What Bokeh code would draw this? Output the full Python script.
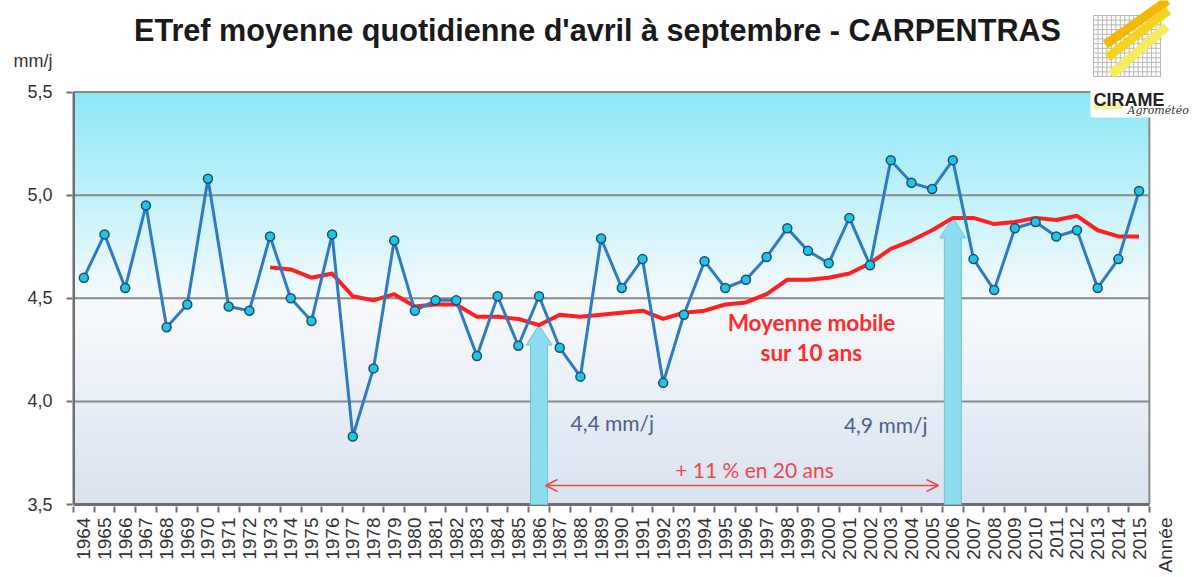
import math
import numpy as np
from bokeh.plotting import figure
from bokeh.models import Range1d, FixedTicker, Arrow, OpenHead
from bokeh.core.properties import value
from bokeh.embed import file_html
from bokeh.resources import INLINE

# ---------------- data ----------------
years = list(range(1964, 2016))
etref = [4.60, 4.81, 4.55, 4.95, 4.36, 4.47, 5.08, 4.46, 4.44, 4.80,
         4.50, 4.39, 4.81, 3.83, 4.16, 4.78, 4.44, 4.49, 4.49, 4.22,
         4.51, 4.27, 4.51, 4.26, 4.12, 4.79, 4.55, 4.69, 4.09, 4.42,
         4.68, 4.55, 4.59, 4.70, 4.84, 4.73, 4.67, 4.89, 4.66, 5.17,
         5.06, 5.03, 5.17, 4.69, 4.54, 4.84, 4.87, 4.80, 4.83, 4.55,
         4.69, 5.02]
ma_years = list(range(1973, 2016))
ma_values = [4.65, 4.64, 4.60, 4.62, 4.51, 4.49, 4.52, 4.46, 4.47, 4.47,
             4.41, 4.41, 4.40, 4.37, 4.42, 4.41, 4.42, 4.43, 4.44, 4.40,
             4.43, 4.44, 4.47, 4.48, 4.52, 4.59, 4.59, 4.60, 4.62, 4.67,
             4.74, 4.78, 4.83, 4.89, 4.89, 4.86, 4.87, 4.89, 4.88, 4.90,
             4.83, 4.80, 4.80]
ytick_values = [3.5, 4.0, 4.5, 5.0, 5.5]
ytick_labels = ["3,5", "4,0", "4,5", "5,0", "5,5"]
arrow_years = [1986, 2006]
arrow_labels = ["4,4 mm/j", "4,9 mm/j"]
title_text = "ETref moyenne quotidienne d'avril à septembre - CARPENTRAS"
unit_label = "mm/j"
xaxis_label = "Année"
ma_label = ["Moyenne mobile", "sur 10 ans"]
change_label = "+ 11 % en 20 ans"

# ---------------- geometry (page pixels -> data, for decorations) ----------------
PX_YEAR = 20.69
PX_UNIT = 206.2
X_LEFT_PAGE = 73.0
Y_BOTTOM_PAGE = 504.0
x_lo = years[0] - 0.5
x_hi = years[-1] + 0.5
y_lo = ytick_values[0]
y_hi = ytick_values[-1]


def dx(px):
    return x_lo + (np.asarray(px, dtype=float) - X_LEFT_PAGE) / PX_YEAR


def dy(py):
    return y_lo + (Y_BOTTOM_PAGE - np.asarray(py, dtype=float)) / PX_UNIT


FRAME_LEFT, FRAME_RIGHT, FRAME_TOP, FRAME_BOTTOM = 72, 1198, 0, 506
TOTAL_H = 575

p = figure(frame_width=FRAME_RIGHT - FRAME_LEFT, frame_height=FRAME_BOTTOM - FRAME_TOP,
           min_border_left=FRAME_LEFT, min_border_right=0, min_border_top=FRAME_TOP,
           min_border_bottom=TOTAL_H - FRAME_BOTTOM,
           x_range=Range1d(float(dx(FRAME_LEFT)), float(dx(FRAME_RIGHT))),
           y_range=Range1d(float(dy(FRAME_BOTTOM)), float(dy(FRAME_TOP))),
           output_backend="svg", toolbar_location=None,
           background_fill_color="white", border_fill_color="white",
           outline_line_color=None)
p.xgrid.visible = False
p.ygrid.visible = False

# ---------------- axes ----------------
unit_pos = float(dy(60))
p.yaxis.ticker = FixedTicker(ticks=ytick_values + [unit_pos], minor_ticks=ytick_values)
ov = {v: l for v, l in zip(ytick_values, ytick_labels)}
ov[unit_pos] = unit_label
p.yaxis.major_label_overrides = ov
p.yaxis.axis_line_color = None
p.yaxis.major_tick_out = 0
p.yaxis.major_tick_in = 0
p.yaxis.minor_tick_out = 6
p.yaxis.minor_tick_in = 0
p.yaxis.minor_tick_line_color = "#707070"
p.yaxis.minor_tick_line_width = 2
p.yaxis.major_label_standoff = 14
p.yaxis.major_label_text_font = "Liberation Sans"
p.yaxis.major_label_text_font_size = "18px"
p.yaxis.major_label_text_color = "#333333"

annee_pos = float(dx(1165))
p.xaxis.ticker = FixedTicker(ticks=years + [annee_pos],
                             minor_ticks=[y - 0.5 for y in years] + [x_hi])
xov = {y: str(y) for y in years}
xov[annee_pos] = xaxis_label
p.xaxis.major_label_overrides = xov
p.xaxis.major_label_orientation = math.pi / 2
p.xaxis.axis_line_color = None
p.xaxis.major_tick_out = 0
p.xaxis.major_tick_in = 0
p.xaxis.minor_tick_out = 6
p.xaxis.minor_tick_in = 0
p.xaxis.minor_tick_line_color = "#707070"
p.xaxis.minor_tick_line_width = 2
p.xaxis.major_label_standoff = 5
p.xaxis.major_label_text_font = "Liberation Sans"
p.xaxis.major_label_text_font_size = "19px"
p.xaxis.major_label_text_color = "#333333"

# ---------------- background gradient ----------------
stops_v = [3.5, 4.45, 4.6, 5.0, 5.5]
stops_c = [(217, 226, 239), (246, 249, 252), (236, 249, 252), (193, 241, 250), (138, 231, 245)]
n = 90
edges = np.linspace(y_lo, y_hi, n + 1)
mids = (edges[:-1] + edges[1:]) / 2
cols = []
for m in mids:
    r = int(round(np.interp(m, stops_v, [c[0] for c in stops_c])))
    g = int(round(np.interp(m, stops_v, [c[1] for c in stops_c])))
    b = int(round(np.interp(m, stops_v, [c[2] for c in stops_c])))
    cols.append("#%02x%02x%02x" % (r, g, b))
p.quad(left=x_lo, right=x_hi, bottom=edges[:-1], top=edges[1:],
       fill_color=cols, line_color=cols, line_width=1, level="image")

# grid + borders
p.segment(x0=x_lo, x1=x_hi, y0=ytick_values[1:-1], y1=ytick_values[1:-1],
          line_color="#8a8a8a", line_width=2, level="underlay")
p.segment(x0=x_lo, x1=x_hi, y0=[y_hi], y1=[y_hi], line_color="#8a8a8a", line_width=2, level="underlay")
p.segment(x0=[x_hi], x1=[x_hi], y0=y_lo, y1=y_hi, line_color="#8a8a8a", line_width=2, level="underlay")
p.segment(x0=x_lo, x1=x_hi, y0=[y_lo], y1=[y_lo], line_color="#6e6e6e", line_width=3, level="underlay")
p.segment(x0=[x_lo], x1=[x_lo], y0=y_lo, y1=y_hi, line_color="#6e6e6e", line_width=3, level="underlay")

# ---------------- block arrows ----------------
sw, hw, hh = 0.41, 0.63, 0.097
axs, ays = [], []
for yr in arrow_years:
    tip = ma_values[ma_years.index(yr)]
    base = tip - hh
    axs.append([yr - sw, yr - sw, yr - hw, yr, yr + hw, yr + sw, yr + sw])
    ays.append([y_lo, base, base, tip, base, base, y_lo])
p.patches(axs, ays, fill_color="#8edcef", line_color="#6fc3da", line_width=1)

# ---------------- series ----------------
p.line(ma_years, ma_values, line_color="#ff1f1f", line_width=4, line_join="round")
p.line(years, etref, line_color="#2e7bc4", line_width=3, line_join="round")
p.scatter(years, etref, marker="circle", size=9, fill_color="#22c4e4",
          line_color="#1d4e6e", line_width=1.5)

# ---------------- annotations ----------------
p.text(x=[float(dx(811))] * 2, y=[float(dy(322)), float(dy(352))], text=ma_label,
       text_align="center", text_baseline="middle", text_font=value("Lato"),
       text_font_style="bold", text_font_size="22.5px", text_color="#ff2b2b")
p.text(x=[float(dx(754))], y=[float(dy(469))], text=[change_label],
       text_align="center", text_baseline="middle", text_font=value("Lato"),
       text_font_size="21px", text_color="#f04848")
p.text(x=[float(dx(570)), float(dx(927))], y=[float(dy(422)), float(dy(424))], text=arrow_labels,
       text_align=["left", "right"], text_baseline="middle", text_font=value("Lato"),
       text_font_size="21px", text_color="#4d5f8c")
p.add_layout(Arrow(start=OpenHead(size=12, line_color="#f04848", line_width=1.5),
                   end=OpenHead(size=12, line_color="#f04848", line_width=1.5),
                   x_start=float(dx(545)), y_start=float(dy(485)),
                   x_end=float(dx(938)), y_end=float(dy(485)),
                   line_color="#f04848", line_width=1.5))

# title
p.text(x=[float(dx(597))], y=[float(dy(29))], text=[title_text],
       text_align="center", text_baseline="middle", text_font=value("Liberation Sans"),
       text_font_style="bold", text_font_size="30.6px", text_color="#1a1a1a")

# ---------------- logo ----------------
p.quad(left=float(dx(1090)), right=float(dx(1210)), bottom=float(dy(117)), top=float(dy(-5)),
       fill_color="white", line_color=None)
gx = np.linspace(1093, 1160, 16)
gy = np.linspace(15, 76, 14)
p.segment(x0=dx(gx), x1=dx(gx), y0=float(dy(15)), y1=float(dy(76)),
          line_color="#b8b8b8", line_width=1)
p.segment(x0=float(dx(1093)), x1=float(dx(1160)), y0=dy(gy), y1=dy(gy),
          line_color="#b8b8b8", line_width=1)
p.multi_line(xs=[list(dx([1105, 1167])), list(dx([1107, 1168])), list(dx([1111, 1166]))],
             ys=[list(dy([44, 0])), list(dy([57, 10])), list(dy([74, 26]))],
             line_color=["#f5b700", "#f7d21e", "#f6ec5a"], line_width=9)
p.quad(left=float(dx(1093)), right=float(dx(1122)), bottom=float(dy(109)), top=float(dy(102)),
       fill_color="#f6f0a0", line_color=None)
p.text(x=[float(dx(1093))], y=[float(dy(99))], text=["CIRAME"],
       text_align="left", text_baseline="alphabetic", text_font=value("Liberation Sans"),
       text_font_style="bold", text_font_size="18px", text_color="#222222")
p.text(x=[float(dx(1127))], y=[float(dy(110))], text=["Agrométéo"],
       text_align="left", text_baseline="alphabetic", text_font=value("DejaVu Serif"),
       text_font_style="italic", text_font_size="11px", text_color="#333333")

open("out.html", "w").write(file_html(p, INLINE))
